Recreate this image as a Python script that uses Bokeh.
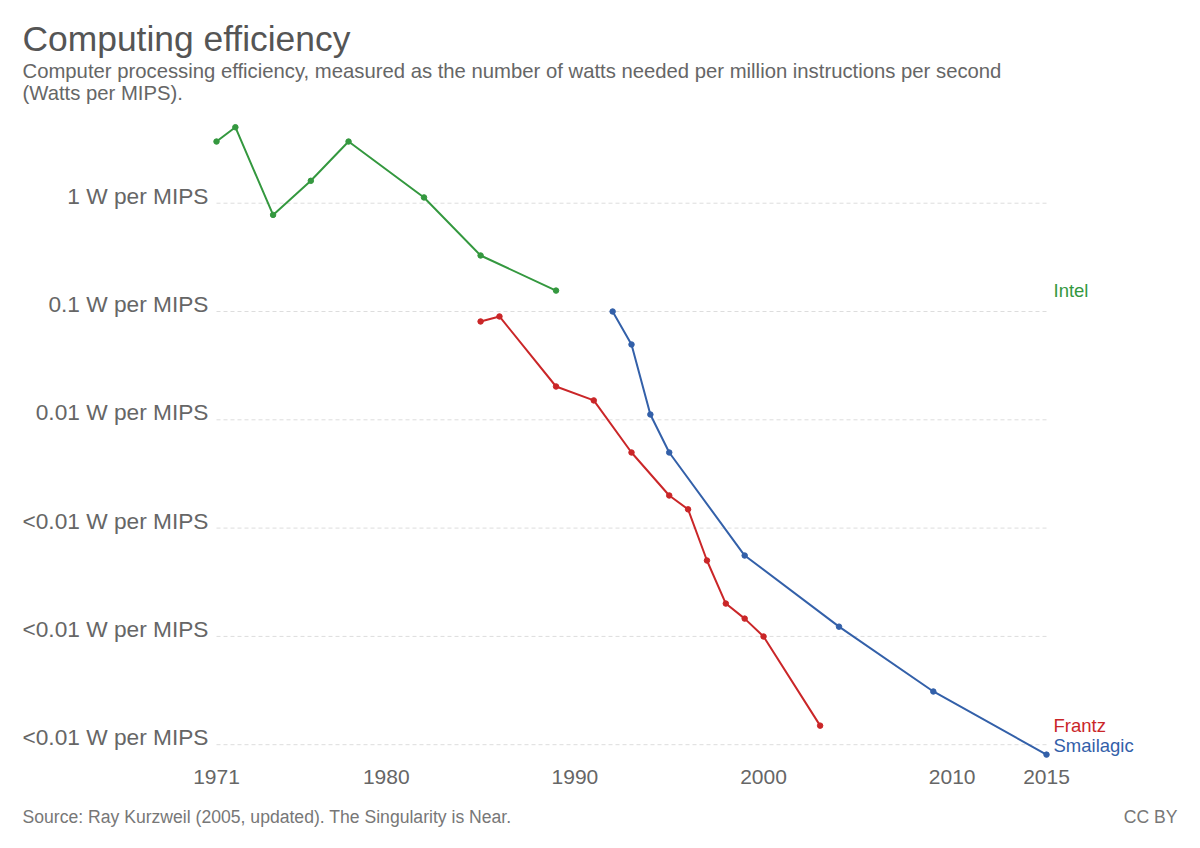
from bokeh.plotting import figure
from bokeh.models import Range1d, Label, FixedTicker, LogAxis, LogScale
from bokeh.embed import file_html
from bokeh.resources import INLINE

# ---- data ----
intel_years = [1971, 1972, 1974, 1976, 1978, 1982, 1985, 1989]
intel_watts = [3.71, 5.03, 0.78, 1.61, 3.71, 1.13, 0.329, 0.156]

frantz_years = [1985, 1986, 1989, 1991, 1993, 1995, 1996, 1997, 1998, 1999, 2000, 2003]
frantz_watts = [0.0809, 0.090, 0.0203, 0.0151, 0.00499, 0.0020, 0.00149, 0.000502,
                0.000201, 0.000146, 0.0000998, 0.0000150]

smailagic_years = [1992, 1993, 1994, 1995, 1999, 2004, 2009, 2015]
smailagic_watts = [0.1, 0.0496, 0.0112, 0.00499, 0.000558, 0.000123, 0.000031, 0.0000081]

x_ticks = [1971, 1980, 1990, 2000, 2010, 2015]
y_ticks = [1, 0.1, 0.01, 0.001, 0.0001, 0.00001]
y_tick_labels = ["1 W per MIPS", "0.1 W per MIPS", "0.01 W per MIPS",
                 "<0.01 W per MIPS", "<0.01 W per MIPS", "<0.01 W per MIPS"]

GREEN = "#34983f"
RED = "#ca2628"
BLUE = "#3360a9"
FONT = "Liberation Sans"

W, H = 1200, 848
# layout of the plotting area inside the canvas (pixels)
PX_LEFT, PX_RIGHT = 216, 1046      # where 1971 and 2015 sit
PX_ONE, PX_DECADE = 202.7, 108.3   # y pixel of 1 W/MIPS, pixels per decade
PX_AXIS = 760                      # y pixel of the x-axis
LABEL_RAISE = 7.5                  # y tick labels sit just above their gridline

ppy = (PX_RIGHT - PX_LEFT) / (x_ticks[-1] - x_ticks[0])
x_start = x_ticks[0] - PX_LEFT / ppy
x_end = x_ticks[-1] + (W - PX_RIGHT) / ppy
y_top = 10 ** (PX_ONE / PX_DECADE)
y_bottom = 10 ** (-(H - PX_ONE) / PX_DECADE)
y_axis_at = 10 ** (-(PX_AXIS - PX_ONE) / PX_DECADE)
raise_f = 10 ** (LABEL_RAISE / PX_DECADE)

p = figure(width=W, height=H, y_axis_type="log",
           x_range=Range1d(x_start, x_end), y_range=Range1d(y_bottom, y_top),
           output_backend="svg", toolbar_location=None)
p.min_border_left = 0
p.min_border_right = 0
p.min_border_top = 0
p.min_border_bottom = 0
p.outline_line_color = None
p.background_fill_color = "white"
p.border_fill_color = "white"

# x axis (pinned inside the canvas)
p.xaxis.ticker = FixedTicker(ticks=x_ticks)
p.xaxis.fixed_location = y_axis_at
p.yaxis.visible = False

# y axis on a range shifted a few pixels so labels sit above the gridlines
p.extra_y_ranges = {"labels": Range1d(y_bottom / raise_f, y_top / raise_f)}
p.extra_y_scales = {"labels": LogScale()}
yax = LogAxis(y_range_name="labels", ticker=FixedTicker(ticks=y_ticks),
              major_label_overrides={t: l for t, l in zip(y_ticks, y_tick_labels)},
              fixed_location=x_ticks[0])
p.add_layout(yax, "left")

for ax in (p.xaxis[0], yax):
    ax.axis_line_color = None
    ax.major_tick_line_color = None
    ax.minor_tick_line_color = None
    ax.major_tick_out = 0
    ax.major_tick_in = 0
    ax.minor_tick_out = 0
    ax.major_label_text_font = FONT
    ax.major_label_text_color = "#666666"
yax.major_label_text_font_size = "22.7px"
p.xaxis.major_label_text_font_size = "21px"
yax.major_label_standoff = 8
p.xaxis.major_label_standoff = 9

p.xgrid.grid_line_color = None
p.ygrid.grid_line_color = None

# horizontal gridlines between first and last year
p.segment(x0=[x_ticks[0]] * len(y_ticks), x1=[x_ticks[-1]] * len(y_ticks),
          y0=y_ticks, y1=y_ticks, line_color="#dddddd", line_width=1, line_dash="4 3")

# series
for xs, ys, c in [(intel_years, intel_watts, GREEN),
                  (frantz_years, frantz_watts, RED),
                  (smailagic_years, smailagic_watts, BLUE)]:
    p.line(xs, ys, line_color=c, line_width=2)
    p.scatter(xs, ys, size=5.5, fill_color=c, line_color=c)

# series labels at right
for name, xs, ys, c, yoff in [("Intel", intel_years, intel_watts, GREEN, 0),
                              ("Frantz", frantz_years, frantz_watts, RED, 0),
                              ("Smailagic", smailagic_years, smailagic_watts, BLUE, 9)]:
    p.add_layout(Label(x=x_ticks[-1], y=ys[-1], x_offset=7, y_offset=yoff, text=name,
                       text_color=c, text_font=FONT, text_font_size="18.5px",
                       text_baseline="middle", text_align="left"))

# titles (screen units; frame covers the whole canvas)
def canvas_label(text, cx, cy, size, color, align="left"):
    p.add_layout(Label(x=cx, y=H - cy, x_units="screen", y_units="screen",
                       text=text, text_font=FONT, text_font_size=size,
                       text_color=color, text_align=align, text_baseline="middle"))

canvas_label("Computing efficiency", 22, 38, "35.4px", "#555555")
canvas_label("Computer processing efficiency, measured as the number of watts needed per million instructions per second",
             22, 70, "20.3px", "#666666")
canvas_label("(Watts per MIPS).", 22, 92, "20.3px", "#666666")
canvas_label("Source: Ray Kurzweil (2005, updated). The Singularity is Near.", 22, 816, "17.6px", "#777777")
canvas_label("CC BY", 1177, 816, "17.6px", "#777777", align="right")

open("out.html", "w").write(file_html(p, INLINE))
